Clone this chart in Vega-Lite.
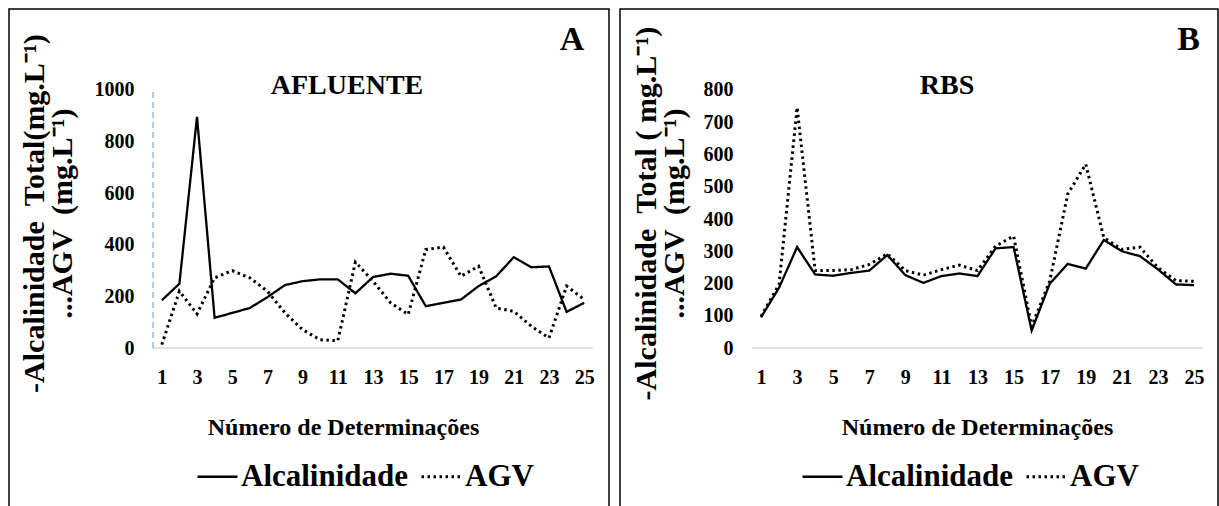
{
  "$schema": "https://vega.github.io/schema/vega-lite/v6.json",
  "padding": {"left": 8, "top": 8, "right": 0, "bottom": 0},
  "autosize": {"type": "pad"},
  "background": "white",
  "spacing": 9,
  "config": {
    "font": "Liberation Serif",
    "view": {"stroke": "black", "strokeWidth": 1.5},
    "axis": {"labelFont": "Liberation Serif", "titleFont": "Liberation Serif", "labelColor": "black", "titleColor": "black", "labelFontWeight": "bold", "titleFontWeight": "bold", "grid": false, "ticks": false, "domain": false, "labelOverlap": false},
    "title": {"font": "Liberation Serif", "fontWeight": "bold", "color": "black"}
  },
  "datasets": {
    "afluente": [
      {"n": 1, "serie": "Alcalinidade", "v": 185}, {"n": 2, "serie": "Alcalinidade", "v": 249}, {"n": 3, "serie": "Alcalinidade", "v": 896}, {"n": 4, "serie": "Alcalinidade", "v": 117}, {"n": 5, "serie": "Alcalinidade", "v": 136},
      {"n": 6, "serie": "Alcalinidade", "v": 155}, {"n": 7, "serie": "Alcalinidade", "v": 197}, {"n": 8, "serie": "Alcalinidade", "v": 244}, {"n": 9, "serie": "Alcalinidade", "v": 259}, {"n": 10, "serie": "Alcalinidade", "v": 266},
      {"n": 11, "serie": "Alcalinidade", "v": 266}, {"n": 12, "serie": "Alcalinidade", "v": 212}, {"n": 13, "serie": "Alcalinidade", "v": 275}, {"n": 14, "serie": "Alcalinidade", "v": 288}, {"n": 15, "serie": "Alcalinidade", "v": 280},
      {"n": 16, "serie": "Alcalinidade", "v": 162}, {"n": 17, "serie": "Alcalinidade", "v": 175}, {"n": 18, "serie": "Alcalinidade", "v": 188}, {"n": 19, "serie": "Alcalinidade", "v": 240}, {"n": 20, "serie": "Alcalinidade", "v": 278},
      {"n": 21, "serie": "Alcalinidade", "v": 352}, {"n": 22, "serie": "Alcalinidade", "v": 313}, {"n": 23, "serie": "Alcalinidade", "v": 316}, {"n": 24, "serie": "Alcalinidade", "v": 140}, {"n": 25, "serie": "Alcalinidade", "v": 175},
      {"n": 1, "serie": "AGV", "v": 13}, {"n": 2, "serie": "AGV", "v": 220}, {"n": 3, "serie": "AGV", "v": 132}, {"n": 4, "serie": "AGV", "v": 272}, {"n": 5, "serie": "AGV", "v": 300},
      {"n": 6, "serie": "AGV", "v": 272}, {"n": 7, "serie": "AGV", "v": 220}, {"n": 8, "serie": "AGV", "v": 136}, {"n": 9, "serie": "AGV", "v": 71}, {"n": 10, "serie": "AGV", "v": 32},
      {"n": 11, "serie": "AGV", "v": 28}, {"n": 12, "serie": "AGV", "v": 333}, {"n": 13, "serie": "AGV", "v": 259}, {"n": 14, "serie": "AGV", "v": 175}, {"n": 15, "serie": "AGV", "v": 130},
      {"n": 16, "serie": "AGV", "v": 382}, {"n": 17, "serie": "AGV", "v": 391}, {"n": 18, "serie": "AGV", "v": 278}, {"n": 19, "serie": "AGV", "v": 317}, {"n": 20, "serie": "AGV", "v": 155},
      {"n": 21, "serie": "AGV", "v": 142}, {"n": 22, "serie": "AGV", "v": 84}, {"n": 23, "serie": "AGV", "v": 39}, {"n": 24, "serie": "AGV", "v": 240}, {"n": 25, "serie": "AGV", "v": 188}
    ],
    "rbs": [
      {"n": 1, "serie": "Alcalinidade", "v": 95}, {"n": 2, "serie": "Alcalinidade", "v": 187}, {"n": 3, "serie": "Alcalinidade", "v": 313}, {"n": 4, "serie": "Alcalinidade", "v": 228}, {"n": 5, "serie": "Alcalinidade", "v": 224},
      {"n": 6, "serie": "Alcalinidade", "v": 233}, {"n": 7, "serie": "Alcalinidade", "v": 240}, {"n": 8, "serie": "Alcalinidade", "v": 288}, {"n": 9, "serie": "Alcalinidade", "v": 226}, {"n": 10, "serie": "Alcalinidade", "v": 202},
      {"n": 11, "serie": "Alcalinidade", "v": 223}, {"n": 12, "serie": "Alcalinidade", "v": 231}, {"n": 13, "serie": "Alcalinidade", "v": 223}, {"n": 14, "serie": "Alcalinidade", "v": 309}, {"n": 15, "serie": "Alcalinidade", "v": 313},
      {"n": 16, "serie": "Alcalinidade", "v": 54}, {"n": 17, "serie": "Alcalinidade", "v": 199}, {"n": 18, "serie": "Alcalinidade", "v": 261}, {"n": 19, "serie": "Alcalinidade", "v": 246}, {"n": 20, "serie": "Alcalinidade", "v": 335},
      {"n": 21, "serie": "Alcalinidade", "v": 300}, {"n": 22, "serie": "Alcalinidade", "v": 285}, {"n": 23, "serie": "Alcalinidade", "v": 244}, {"n": 24, "serie": "Alcalinidade", "v": 197}, {"n": 25, "serie": "Alcalinidade", "v": 195},
      {"n": 1, "serie": "AGV", "v": 98}, {"n": 2, "serie": "AGV", "v": 197}, {"n": 3, "serie": "AGV", "v": 746}, {"n": 4, "serie": "AGV", "v": 240}, {"n": 5, "serie": "AGV", "v": 240},
      {"n": 6, "serie": "AGV", "v": 243}, {"n": 7, "serie": "AGV", "v": 259}, {"n": 8, "serie": "AGV", "v": 292}, {"n": 9, "serie": "AGV", "v": 240}, {"n": 10, "serie": "AGV", "v": 226},
      {"n": 11, "serie": "AGV", "v": 243}, {"n": 12, "serie": "AGV", "v": 257}, {"n": 13, "serie": "AGV", "v": 240}, {"n": 14, "serie": "AGV", "v": 316}, {"n": 15, "serie": "AGV", "v": 347},
      {"n": 16, "serie": "AGV", "v": 67}, {"n": 17, "serie": "AGV", "v": 207}, {"n": 18, "serie": "AGV", "v": 477}, {"n": 19, "serie": "AGV", "v": 570}, {"n": 20, "serie": "AGV", "v": 342},
      {"n": 21, "serie": "AGV", "v": 306}, {"n": 22, "serie": "AGV", "v": 313}, {"n": 23, "serie": "AGV", "v": 249}, {"n": 24, "serie": "AGV", "v": 209}, {"n": 25, "serie": "AGV", "v": 207}
    ]
  },
  "resolve": {"scale": {"x": "independent", "y": "independent", "strokeDash": "independent", "strokeWidth": "independent"}, "legend": {"strokeDash": "independent"}},
  "hconcat": [
    {
      "width": 600,
      "height": 512,
      "title": {"text": "AFLUENTE", "anchor": "middle", "dx": 38, "offset": -113, "baseline": "alphabetic", "fontSize": 28},
      "layer": [
        {
          "data": {"values": [{}]},
          "mark": {"type": "rule", "color": "#D9D9D9", "strokeWidth": 1.5},
          "encoding": {"x": {"datum": 0.5, "type": "quantitative"}, "x2": {"datum": 25.5}, "y": {"datum": 0, "type": "quantitative"}}
        },
        {
          "data": {"values": [{}]},
          "mark": {"type": "rule", "color": "#5B9BD5", "strokeWidth": 1, "strokeDash": [6, 4]},
          "encoding": {"x": {"datum": 0.5, "type": "quantitative"}, "y": {"datum": 0, "type": "quantitative"}, "y2": {"datum": 1000}}
        },
        {
          "data": {"name": "afluente"},
          "mark": {"type": "line", "color": "black"},
          "encoding": {
            "x": {"field": "n", "type": "quantitative",
              "scale": {"domain": [-7.682, 26.409], "nice": false, "zero": false},
              "axis": {"orient": "bottom", "offset": -173, "values": [1, 3, 5, 7, 9, 11, 13, 15, 17, 19, 21, 23, 25], "labelFontSize": 20, "labelPadding": 19,
                "title": "Número de Determinações", "titleFontSize": 24, "titlePadding": 28, "titleX": 334}},
            "y": {"field": "v", "type": "quantitative",
              "scale": {"domain": [-670.54, 1313.95], "nice": false, "zero": false},
              "axis": {"orient": "left", "offset": -144, "values": [0, 200, 400, 600, 800, 1000], "format": "d", "labelFontSize": 20, "labelPadding": 19,
                "title": ["-Alcalinidade \u00a0Total(mg.L⁻¹)", "...AGV \u00a0(mg.L⁻¹)"], "titleFontSize": 30, "titleLineHeight": 28, "titlePadding": 17, "titleY": 204}},
            "strokeWidth": {"field": "serie", "type": "nominal", "scale": {"domain": ["Alcalinidade", "AGV"], "range": [2.3, 3]}, "legend": null},
            "strokeDash": {"field": "serie", "type": "nominal",
              "scale": {"domain": ["Alcalinidade", "AGV"], "range": [[1, 0], [2.5, 3.5]]},
              "legend": {"orient": "none", "legendX": 187, "legendY": 446, "direction": "horizontal", "title": null, "symbolType": "stroke", "symbolSize": 1600, "symbolStrokeWidth": 2.6, "symbolStrokeColor": "black",
                "labelFont": "Liberation Serif", "labelFontSize": 31, "labelFontWeight": "bold", "labelColor": "black", "labelOffset": 2, "labelLimit": 0, "columnPadding": 6}}
          }
        },
        {
          "data": {"values": [{}]},
          "mark": {"type": "text", "text": "A", "align": "right", "baseline": "alphabetic", "fontSize": 34, "fontWeight": "bold", "font": "Liberation Serif", "color": "black"},
          "encoding": {"x": {"datum": 25, "type": "quantitative"}, "y": {"datum": 1155, "type": "quantitative"}}
        }
      ]
    },
    {
      "width": 598,
      "height": 512,
      "title": {"text": "RBS", "anchor": "middle", "dx": 28, "offset": -113, "baseline": "alphabetic", "fontSize": 28},
      "layer": [
        {
          "data": {"values": [{}]},
          "mark": {"type": "rule", "color": "#D9D9D9", "strokeWidth": 1.5},
          "encoding": {"x": {"datum": 0.5, "type": "quantitative"}, "x2": {"datum": 25.5}, "y": {"datum": 0, "type": "quantitative"}}
        },
        {
          "data": {"name": "rbs"},
          "mark": {"type": "line", "color": "black"},
          "encoding": {
            "x": {"field": "n", "type": "quantitative",
              "scale": {"domain": [-6.817, 26.33], "nice": false, "zero": false},
              "axis": {"orient": "bottom", "offset": -173, "values": [1, 3, 5, 7, 9, 11, 13, 15, 17, 19, 21, 23, 25], "labelFontSize": 20, "labelPadding": 19,
                "title": "Número de Determinações", "titleFontSize": 24, "titlePadding": 28, "titleX": 357}},
            "y": {"field": "v", "type": "quantitative",
              "scale": {"domain": [-536.43, 1051.16], "nice": false, "zero": false},
              "axis": {"orient": "left", "offset": -132, "values": [0, 100, 200, 300, 400, 500, 600, 700, 800], "format": "d", "labelFontSize": 20, "labelPadding": 19,
                "title": ["-Alcalinidade \u00a0Total ( mg.L⁻¹)", "...AGV \u00a0(mg.L⁻¹)"], "titleFontSize": 30, "titleLineHeight": 28, "titlePadding": 14, "titleY": 204}},
            "strokeWidth": {"field": "serie", "type": "nominal", "scale": {"domain": ["Alcalinidade", "AGV"], "range": [2.3, 3]}, "legend": null},
            "strokeDash": {"field": "serie", "type": "nominal",
              "scale": {"domain": ["Alcalinidade", "AGV"], "range": [[1, 0], [2.5, 3.5]]},
              "legend": {"orient": "none", "legendX": 181, "legendY": 446, "direction": "horizontal", "title": null, "symbolType": "stroke", "symbolSize": 1600, "symbolStrokeWidth": 2.6, "symbolStrokeColor": "black",
                "labelFont": "Liberation Serif", "labelFontSize": 31, "labelFontWeight": "bold", "labelColor": "black", "labelOffset": 2, "labelLimit": 0, "columnPadding": 6}}
          }
        },
        {
          "data": {"values": [{}]},
          "mark": {"type": "text", "text": "B", "align": "right", "baseline": "alphabetic", "fontSize": 34, "fontWeight": "bold", "font": "Liberation Serif", "color": "black"},
          "encoding": {"x": {"datum": 25.33, "type": "quantitative"}, "y": {"datum": 924, "type": "quantitative"}}
        }
      ]
    }
  ]
}
